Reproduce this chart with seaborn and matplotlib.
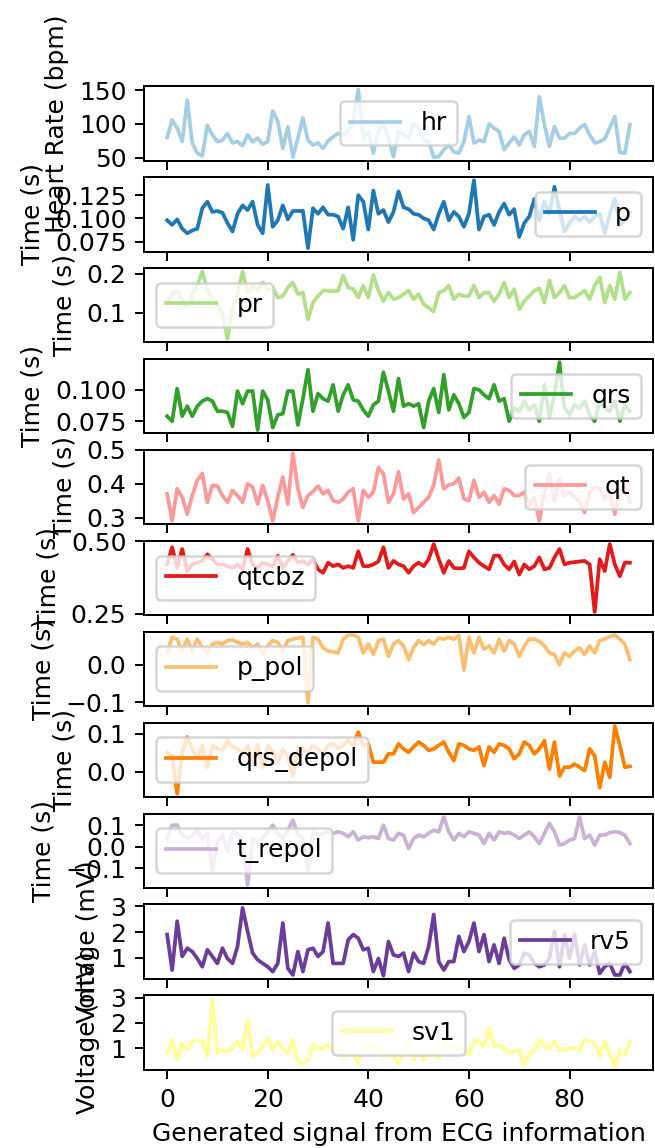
import numpy as np
import pandas as pd
import matplotlib
matplotlib.use("Agg")
import matplotlib.pyplot as plt
import seaborn as sns

hr = [80, 106, 94, 74, 135, 72, 57, 53, 98, 84,
      74, 76, 86, 72, 74, 68, 84, 74, 79, 70,
      74, 119, 104, 64, 96, 51, 79, 109, 76, 69,
      72, 64, 75, 81, 86, 84, 89, 104, 151, 79,
      89, 57, 89, 99, 79, 52, 89, 84, 79, 101,
      94, 76, 74, 51, 52, 62, 69, 59, 57, 74,
      111, 72, 76, 74, 100, 94, 89, 62, 72, 81,
      69, 84, 89, 67, 140, 99, 67, 96, 79, 79,
      86, 86, 94, 99, 84, 72, 74, 78, 94, 111,
      58, 57, 99]
p = [0.098, 0.093, 0.099, 0.089, 0.084, 0.087, 0.089, 0.111, 0.118, 0.107,
     0.108, 0.106, 0.095, 0.086, 0.105, 0.114, 0.109, 0.118, 0.093, 0.084,
     0.136, 0.091, 0.098, 0.114, 0.099, 0.108, 0.108, 0.108, 0.068, 0.111,
     0.105, 0.112, 0.104, 0.104, 0.102, 0.089, 0.112, 0.077, 0.125, 0.118,
     0.088, 0.130, 0.105, 0.109, 0.096, 0.107, 0.129, 0.112, 0.110, 0.105,
     0.104, 0.100, 0.098, 0.088, 0.105, 0.118, 0.098, 0.107, 0.102, 0.091,
     0.105, 0.141, 0.088, 0.102, 0.104, 0.093, 0.107, 0.116, 0.104, 0.110,
     0.080, 0.095, 0.102, 0.121, 0.098, 0.118, 0.105, 0.134, 0.109, 0.086,
     0.095, 0.102, 0.098, 0.102, 0.096, 0.102, 0.105, 0.084, 0.105, 0.121,
     0.093, 0.098, 0.107]
pr = [0.126, 0.148, 0.157, 0.135, 0.113, 0.148, 0.170, 0.207, 0.157, 0.139,
      0.122, 0.096, 0.032, 0.113, 0.148, 0.206, 0.152, 0.170, 0.157, 0.178,
      0.161, 0.165, 0.139, 0.143, 0.165, 0.178, 0.148, 0.152, 0.083, 0.126,
      0.143, 0.157, 0.157, 0.155, 0.157, 0.196, 0.165, 0.161, 0.139, 0.170,
      0.139, 0.198, 0.157, 0.130, 0.152, 0.135, 0.139, 0.148, 0.157, 0.135,
      0.148, 0.122, 0.113, 0.103, 0.152, 0.157, 0.170, 0.135, 0.148, 0.143,
      0.143, 0.170, 0.139, 0.152, 0.152, 0.130, 0.148, 0.178, 0.139, 0.161,
      0.109, 0.130, 0.143, 0.157, 0.163, 0.126, 0.183, 0.139, 0.152, 0.170,
      0.139, 0.139, 0.148, 0.157, 0.135, 0.170, 0.191, 0.126, 0.170, 0.135,
      0.204, 0.135, 0.152]
qrs = [0.079, 0.075, 0.101, 0.079, 0.087, 0.079, 0.087, 0.091, 0.093, 0.091,
       0.083, 0.083, 0.082, 0.071, 0.099, 0.089, 0.099, 0.099, 0.068, 0.099,
       0.092, 0.070, 0.080, 0.081, 0.099, 0.099, 0.072, 0.093, 0.116, 0.083,
       0.097, 0.093, 0.091, 0.104, 0.083, 0.096, 0.104, 0.092, 0.091, 0.084,
       0.079, 0.088, 0.091, 0.114, 0.099, 0.083, 0.109, 0.087, 0.089, 0.087,
       0.089, 0.070, 0.091, 0.101, 0.082, 0.112, 0.084, 0.096, 0.089, 0.078,
       0.082, 0.101, 0.100, 0.096, 0.093, 0.104, 0.091, 0.093, 0.075, 0.0855,
       0.083, 0.091, 0.084, 0.088, 0.075, 0.104, 0.078, 0.096, 0.122, 0.0855,
       0.080, 0.088, 0.0855, 0.091, 0.080, 0.075, 0.091, 0.0855, 0.083, 0.091,
       0.075, 0.088, 0.083]
qt = [0.37, 0.29, 0.385, 0.36, 0.31, 0.365, 0.41, 0.43, 0.345, 0.395,
      0.393, 0.365, 0.345, 0.38, 0.365, 0.345, 0.40, 0.39, 0.34, 0.395,
      0.35, 0.29, 0.36, 0.42, 0.34, 0.49, 0.385, 0.33, 0.365, 0.377,
      0.393, 0.37, 0.38, 0.35, 0.345, 0.355, 0.375, 0.385, 0.29, 0.38,
      0.36, 0.375, 0.447, 0.43, 0.345, 0.37, 0.435, 0.355, 0.37, 0.315,
      0.33, 0.345, 0.36, 0.395, 0.47, 0.385, 0.397, 0.40, 0.417, 0.355,
      0.35, 0.41, 0.36, 0.375, 0.345, 0.365, 0.34, 0.385, 0.38, 0.365,
      0.365, 0.375, 0.335, 0.36, 0.29, 0.375, 0.43, 0.35, 0.415, 0.365,
      0.375, 0.36, 0.345, 0.315, 0.375, 0.39, 0.385, 0.355, 0.375, 0.31,
      0.385, 0.395, 0.345]
qtcbz = [0.42, 0.479, 0.408, 0.473, 0.397, 0.42, 0.426, 0.432, 0.455, 0.438,
         0.42, 0.42, 0.414, 0.408, 0.42, 0.403, 0.473, 0.42, 0.408, 0.426,
         0.42, 0.414, 0.45, 0.408, 0.432, 0.453, 0.426, 0.432, 0.42, 0.438,
         0.403, 0.391, 0.426, 0.414, 0.42, 0.408, 0.414, 0.408, 0.465, 0.414,
         0.414, 0.42, 0.43, 0.479, 0.408, 0.432, 0.42, 0.414, 0.391, 0.414,
         0.426, 0.414, 0.438, 0.49, 0.438, 0.391, 0.432, 0.408, 0.406, 0.408,
         0.465, 0.444, 0.426, 0.414, 0.403, 0.45, 0.45, 0.42, 0.403, 0.43,
         0.385, 0.42, 0.403, 0.414, 0.444, 0.403, 0.408, 0.444, 0.473, 0.42,
         0.426, 0.428, 0.43, 0.432, 0.42, 0.256, 0.438, 0.397, 0.49, 0.42,
         0.379, 0.426, 0.426]
p_pol = [0.032, 0.074, 0.069, 0.037, 0.069, 0.037, 0.069, 0.046, 0.032, 0.056,
         0.060, 0.056, 0.065, 0.067, 0.060, 0.056, 0.060, 0.046, 0.056, 0.028,
         0.051, 0.065, 0.060, 0.037, 0.065, 0.069, 0.072, 0.074, -0.102, 0.074,
         0.069, 0.046, 0.037, 0.035, 0.032, 0.069, 0.080, 0.080, 0.074, 0.032,
         0.056, 0.028, 0.065, 0.069, 0.023, 0.056, 0.065, 0.051, 0.014, 0.046,
         0.065, 0.054, 0.065, 0.056, 0.072, 0.069, 0.074, 0.069, 0.079, -0.014,
         0.074, 0.032, 0.074, 0.042, 0.051, 0.032, 0.069, 0.037, 0.065, 0.056,
         0.023, 0.051, 0.069, 0.069, 0.063, 0.051, 0.032, 0.028, 0.000, 0.032,
         0.023, 0.037, 0.046, 0.028, 0.051, 0.032, 0.065, 0.069, 0.076, 0.080,
         0.069, 0.056, 0.014]
qrs_depol = [0.051, 0.042, -0.058, 0.051, 0.091, 0.060, 0.034, 0.069, 0.012, 0.069,
             0.060, 0.056, 0.082, 0.065, 0.060, 0.051, 0.069, 0.025, 0.073, 0.012,
             0.069, 0.051, 0.025, 0.060, 0.038, -0.011, 0.056, 0.060, 0.051, 0.069,
             0.060, 0.047, 0.069, 0.073, 0.060, 0.069, 0.082, 0.069, 0.104, 0.069,
             0.073, 0.025, 0.025, 0.025, 0.047, 0.047, 0.073, 0.060, 0.051, 0.065,
             0.078, 0.069, 0.056, 0.060, 0.069, 0.078, 0.051, 0.029, 0.073, 0.069,
             0.060, 0.056, 0.065, 0.016, 0.065, 0.051, 0.073, 0.069, 0.060, 0.034,
             0.047, 0.078, 0.069, 0.047, 0.060, 0.082, 0.007, 0.078, -0.011, 0.012,
             0.012, 0.020, 0.012, 0.003, 0.060, 0.042, -0.042, 0.025, -0.015, 0.120,
             0.069, 0.012, 0.014]
t_repol = [0.038, 0.100, 0.100, 0.054, 0.038, 0.054, 0.077, 0.038, 0.062, -0.115,
           0.023, 0.054, -0.023, 0.069, 0.062, 0.023, -0.176, 0.038, 0.023, 0.038,
           0.069, 0.100, 0.062, 0.038, 0.077, 0.123, 0.054, 0.038, -0.115, 0.069,
           0.054, 0.062, 0.069, 0.062, 0.069, 0.062, 0.046, 0.069, 0.031, 0.046,
           0.042, 0.046, 0.038, 0.100, 0.038, 0.031, 0.062, 0.054, -0.008, 0.038,
           0.054, 0.046, 0.062, 0.077, 0.069, 0.138, 0.069, 0.031, 0.062, 0.046,
           0.069, 0.062, 0.054, 0.015, 0.062, 0.031, 0.069, 0.062, 0.066, 0.054,
           0.038, 0.054, 0.069, 0.046, 0.015, 0.062, 0.108, 0.069, 0.008, 0.015,
           0.031, 0.038, 0.138, 0.038, 0.054, 0.008, 0.054, 0.054, 0.066, 0.069,
           0.066, 0.054, 0.015]
rv5 = [1.90, 0.52, 2.42, 1.05, 1.37, 1.24, 0.97, 0.65, 1.31, 1.05,
       0.78, 1.37, 0.97, 0.78, 1.44, 2.94, 2.03, 1.18, 0.92, 0.78,
       0.65, 0.46, 0.78, 2.35, 0.59, 0.33, 1.24, 0.46, 1.31, 1.37,
       1.05, 1.24, 2.35, 0.78, 0.78, 0.78, 1.70, 1.90, 1.76, 1.31,
       1.37, 0.46, 0.97, 0.30, 1.63, 1.11, 1.05, 1.18, 0.46, 1.18,
       0.85, 0.78, 1.44, 2.68, 0.85, 0.52, 0.85, 0.85, 1.83, 1.24,
       1.63, 2.35, 1.24, 1.90, 0.85, 1.50, 0.78, 1.76, 0.92, 0.59,
       0.72, 1.18, 1.11, 0.78, 0.65, 0.72, 0.98, 2.03, 0.65, 1.90,
       0.98, 1.90, 0.72, 1.50, 0.72, 1.24, 0.39, 0.65, 0.78, 0.33,
       0.33, 0.78, 0.46]
sv1 = [0.80, 1.33, 0.53, 1.20, 0.93, 1.27, 1.33, 1.27, 0.67, 2.95,
       0.80, 0.93, 0.87, 1.00, 1.27, 0.93, 2.13, 0.67, 0.80, 1.07,
       1.40, 0.93, 1.27, 1.00, 0.80, 1.33, 0.47, 0.40, 0.53, 1.13,
       1.00, 1.00, 1.13, 0.93, 1.00, 0.67, 0.80, 0.73, 0.40, 1.07,
       1.13, 1.13, 1.07, 0.67, 0.80, 0.67, 0.40, 0.87, 1.33, 0.53,
       0.93, 0.53, 0.80, 0.87, 0.60, 1.27, 1.13, 1.00, 1.33, 0.80,
       0.73, 1.33, 1.27, 1.07, 1.80, 1.07, 1.13, 1.00, 0.80, 0.87,
       0.93, 0.33, 0.80, 0.87, 1.33, 1.07, 1.00, 1.27, 0.93, 0.93,
       1.00, 1.00, 0.93, 1.33, 1.27, 1.20, 0.67, 1.27, 0.80, 0.27,
       0.93, 0.73, 1.27]

series_names = ["hr", "p", "pr", "qrs", "qt", "qtcbz", "p_pol", "qrs_depol",
                "t_repol", "rv5", "sv1"]
series_values = [hr, p, pr, qrs, qt, qtcbz, p_pol, qrs_depol, t_repol, rv5, sv1]
y_labels = ["Heart Rate (bpm)", "Time (s)", "Time (s)", "Time (s)", "Time (s)",
            "Time (s)", "Time (s)", "Time (s)", "Time (s)", "Voltage (mV)",
            "Voltage (mV)"]
y_ticks = [[50, 100, 150], [0.075, 0.100, 0.125], [0.1, 0.2], [0.075, 0.100],
           [0.3, 0.4, 0.5], [0.25, 0.50], [-0.1, 0.0], [0.0, 0.1],
           [-0.1, 0.0, 0.1], [1, 2, 3], [1, 2, 3]]
x_ticks = [0, 20, 40, 60, 80]
x_label = "Generated signal from ECG information"
legend_locs = ["center", "center right", "center left", "center right",
               "center right", "center left", "center left", "center left",
               "center left", "center right", "center"]

colors = sns.color_palette("Paired", 11)

plt.rcParams["font.family"] = ["DejaVu Sans"]

DPI = 180
fig, axes = plt.subplots(11, 1, sharex=True,
                         figsize=(655 / DPI, 1148 / DPI), dpi=DPI)
fig.subplots_adjust(left=0.2198, right=0.997, top=0.9251, bottom=0.0679,
                    hspace=0.219)

for i, ax in enumerate(axes):
    vals = series_values[i]
    df = pd.DataFrame({"idx": np.arange(len(vals)), "val": vals})
    sns.lineplot(data=df, x="idx", y="val", ax=ax, color=colors[i],
                 label=series_names[i])
    ax.set_yticks(y_ticks[i])
    ax.set_ylabel(y_labels[i])
    ax.set_xlabel("")
    ax.legend(loc=legend_locs[i])

axes[-1].set_xticks(x_ticks)
axes[-1].set_xlabel(x_label)

fig.savefig("out.png", dpi=DPI)
